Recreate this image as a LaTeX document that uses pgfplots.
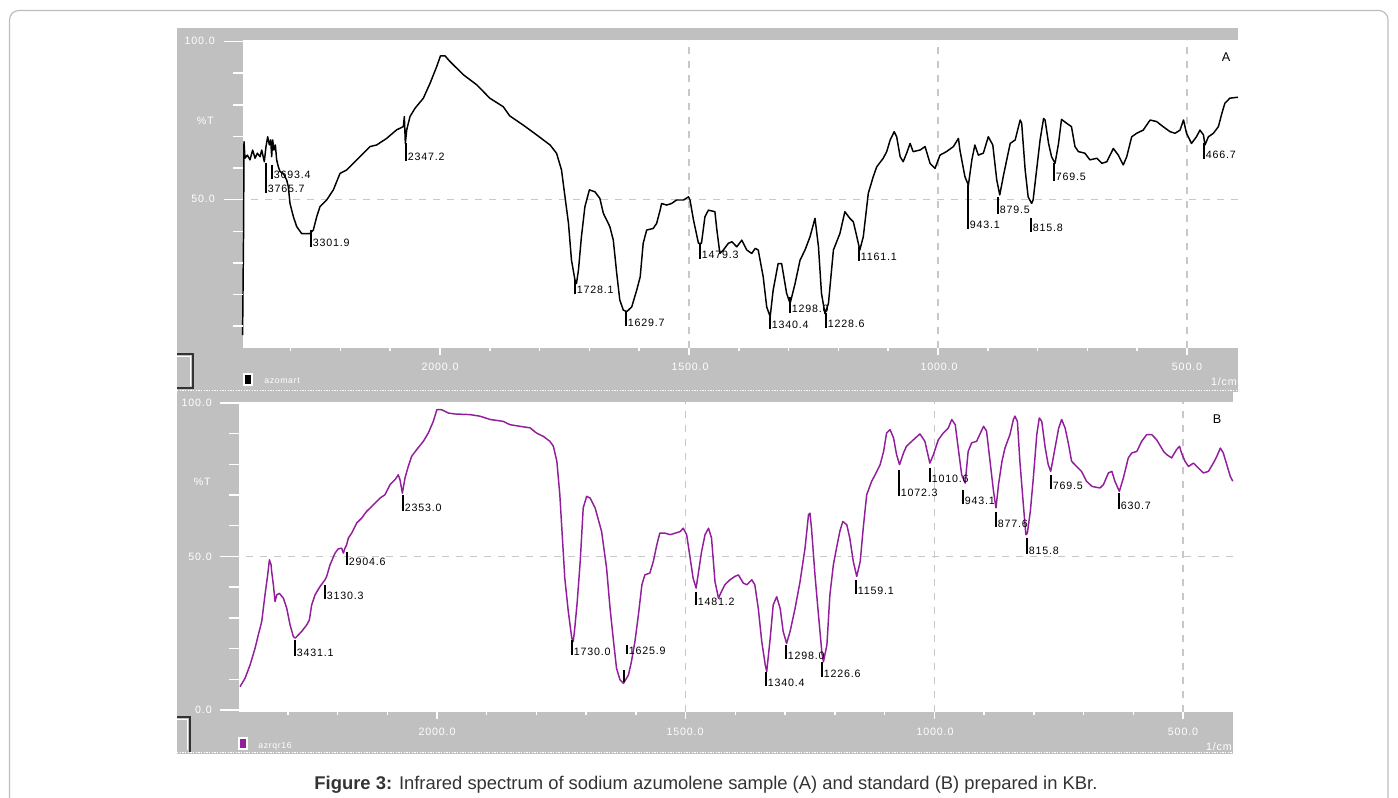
\documentclass[border=0pt]{standalone}
\usepackage{pgfplots}
\usepackage{pgfplotstable}
\pgfplotsset{compat=1.18}
\usepackage{fontspec}
\setmainfont{Liberation Sans}
\newfontfamily\pix[LetterSpace=8]{Liberation Sans}
\definecolor{panel}{HTML}{C0C0C0}
\definecolor{gridc}{HTML}{C8C8C8}
\definecolor{spB}{RGB}{145,30,155}
\definecolor{capc}{HTML}{333333}
\definecolor{framec}{HTML}{BDBDBD}

\pgfplotstableread{
nu T
3982 7.2
3972 40
3968 68.4
3958 63.1
3934 64.1
3908 62.6
3881 65.7
3857 63.1
3834 64.7
3807 63.6
3790 65.7
3764 62.0
3747 66.8
3730 69.9
3713 67.3
3700 68.9
3690 63.6
3680 68.9
3667 65.7
3653 67.3
3640 62.6
3623 60.4
3606 58.9
3573 58.3
3539 56.2
3523 54.1
3506 48.8
3472 44.6
3439 41.5
3389 39.3
3305 39.3
3272 40.4
3238 44.6
3205 47.8
3138 49.9
3071 53.1
3004 58.3
2937 59.4
2870 61.5
2803 63.6
2703 66.8
2636 67.3
2535 69.4
2435 72.1
2368 73.1
2358 76.3
2348 67.8
2334 72.1
2301 76.3
2251 78.9
2167 82.1
2100 86.8
2033 92.1
1999 95.5
1990 95.5
1980 93.7
1953 89.5
1926 86.3
1900 82.1
1873 79.4
1860 76.5
1833 73.6
1806 70.5
1779 67.3
1766 64.7
1756 59.4
1749 50.9
1742 42.5
1736 30.9
1729 24.6
1726 23.5
1722 27.7
1716 38.3
1709 47.8
1700 53.1
1689 52.5
1679 50.4
1672 45.7
1659 41.5
1652 37.2
1645 26.5
1639 18.3
1632 15.1
1625 14.6
1615 16.1
1605 21.4
1598 25.6
1592 36.2
1585 40.4
1572 40.9
1565 42.5
1558 46.7
1555 48.8
1545 48.3
1535 48.8
1525 49.9
1511 49.9
1501 50.9
1498 49.9
1491 43.6
1481 36.2
1475 36.2
1468 44.6
1461 46.7
1448 46.2
1444 40.4
1438 33.0
1431 34.1
1421 36.2
1414 36.7
1404 35.1
1394 37.2
1384 34.1
1374 33.0
1367 34.6
1361 34.1
1351 25.6
1344 16.1
1337 13.0
1331 21.4
1321 29.8
1314 29.8
1304 20.4
1297 17.2
1287 23.5
1277 30.9
1267 34.1
1257 38.3
1247 44.1
1240 35.1
1234 20.4
1227 14.0
1220 17.2
1210 34.1
1197 39.3
1187 46.2
1177 44.1
1170 43.0
1163 38.3
1157 34.1
1150 38.3
1140 52.0
1130 57.3
1123 60.4
1110 63.1
1103 65.2
1096 68.9
1088 71.5
1083 69.9
1076 63.6
1070 62.0
1063 64.7
1056 67.8
1050 65.2
1036 65.7
1026 66.8
1016 61.5
1006 59.9
996 64.1
983 65.2
969 66.8
959 69.4
956 65.7
946 57.3
939 54.6
932 62.6
926 67.3
919 64.1
909 64.7
899 69.9
890 67.3
882 56.2
876 51.5
869 57.3
862 62.6
855 67.8
845 68.9
835 75.2
832 74.2
825 59.4
819 50.9
812 48.8
809 49.9
802 59.4
795 68.9
788 75.7
785 75.2
778 67.8
772 63.6
765 61.5
758 67.8
752 75.4
742 74.2
732 73.1
725 66.8
718 65.2
705 64.7
695 62.6
681 63.1
671 61.5
661 62.0
648 66.2
638 64.1
628 61.0
621 63.6
611 69.9
601 71.0
588 72.0
574 75.2
561 74.7
548 73.1
534 71.5
524 71.0
514 72.0
507 75.2
501 71.0
491 67.8
481 69.9
474 72.0
467 70.5
464 67.3
457 69.9
447 71.0
437 73.1
430 77.3
424 80.5
414 82.1
398 82.4
}\specA

\pgfplotstableread{
nu T
3980 7.6
3930 10.3
3879 14.7
3829 20.1
3796 24.5
3762 28.8
3729 37.5
3702 44.0
3685 48.9
3668 47.3
3662 45.1
3645 40.8
3628 35.3
3611 37.5
3585 38.0
3544 36.4
3511 33.2
3477 27.7
3444 23.9
3425 23.4
3360 25.6
3310 27.7
3283 29.3
3260 34.2
3226 37.5
3176 40.2
3126 42.4
3109 43.5
3075 47.3
3025 51.1
2992 52.5
2958 52.7
2941 51.1
2925 52.7
2908 53.8
2891 56.0
2858 57.6
2807 60.9
2757 62.5
2707 64.7
2640 66.8
2573 69.0
2523 70.1
2472 73.4
2422 75.0
2389 76.6
2372 75.0
2348 70.6
2322 75.5
2288 79.4
2255 82.6
2204 84.8
2137 87.5
2087 90.2
2037 94.0
2001 97.8
1991 97.8
1977 96.7
1964 96.4
1934 96.2
1914 95.7
1893 94.6
1867 94.0
1853 92.9
1826 92.2
1813 91.9
1800 90.2
1786 89.1
1773 87.5
1766 85.9
1759 81.0
1753 70.1
1749 59.2
1743 42.9
1736 32.1
1729 23.4
1726 22.3
1723 26.6
1718 35.3
1712 48.4
1706 65.8
1699 69.6
1692 69.0
1682 65.8
1669 58.1
1659 46.2
1652 33.1
1645 22.3
1639 13.6
1632 9.8
1625 8.7
1615 11.4
1609 15.8
1602 22.3
1595 31.0
1588 40.8
1582 44.0
1572 44.6
1565 48.4
1558 53.8
1552 57.6
1542 57.6
1531 57.1
1521 57.6
1511 58.1
1505 59.2
1498 57.1
1491 49.5
1485 42.9
1479 39.7
1475 44.0
1468 51.6
1461 57.1
1454 59.2
1448 56.0
1441 41.8
1434 36.4
1428 38.6
1421 40.8
1411 42.4
1401 43.5
1394 44.0
1384 41.3
1377 40.8
1367 42.4
1361 40.8
1354 33.1
1347 22.3
1340 14.7
1337 12.5
1330 23.4
1324 34.2
1317 36.9
1310 33.1
1304 25.6
1297 21.7
1290 25.6
1280 33.1
1270 41.8
1260 52.7
1253 63.6
1250 64.1
1247 59.2
1240 44.0
1233 31.0
1226 18.5
1223 15.7
1216 21.2
1210 37.5
1203 47.3
1196 53.3
1190 58.2
1184 61.4
1176 60.3
1170 56.0
1163 48.4
1156 43.5
1149 48.4
1143 59.2
1136 70.1
1126 74.5
1119 76.6
1109 79.9
1102 84.2
1096 90.2
1089 91.3
1082 88.6
1076 83.2
1070 79.9
1062 83.7
1056 85.9
1042 88.0
1029 89.9
1019 87.5
1009 80.4
1002 83.1
992 88.0
982 90.2
972 91.8
965 94.6
958 92.9
952 85.3
945 76.6
938 73.9
932 84.2
925 87.0
915 87.5
901 92.4
895 90.8
888 81.0
881 71.2
876 65.8
871 73.4
864 81.0
858 85.3
848 89.7
841 94.6
838 95.7
833 94.0
828 81.0
821 66.8
816 57.1
813 57.6
807 64.7
801 75.5
794 89.7
789 95.1
784 94.0
777 85.3
771 79.9
766 77.7
761 82.1
750 91.8
744 94.6
737 91.8
730 86.4
724 81.0
714 79.3
704 77.7
694 74.5
683 72.8
667 72.3
660 73.4
650 77.2
643 77.7
637 74.5
628 71.2
620 75.5
610 82.1
603 83.7
593 84.2
583 87.5
573 89.7
563 89.7
553 88.0
539 84.2
533 83.2
523 82.1
513 84.8
507 85.9
503 83.7
496 81.0
489 79.3
479 80.4
469 78.8
459 77.2
449 77.7
439 80.4
432 82.6
425 85.3
419 83.7
412 79.9
405 76.1
400 74.5
}\specB

\pgfplotsset{
  irspec/.style={
    scale only axis, x dir=reverse, clip=false,
    axis line style={draw=none},
    xtick={500,1000,1500}, ytick={50},
    xticklabels={}, yticklabels={},
    major tick length=0pt, tick style={draw=none},
    grid=major,
    major grid style={gridc, line width=1.1pt, dash pattern=on 5.5pt off 5pt},
    axis background/.style={fill=white},
  },
}
\tikzset{tk/.style={white, line width=1.1pt}}
\newcommand{\nuexpr}{\thisrow{nu}>2000 ? 2000+(\thisrow{nu}-2000)/5 : \thisrow{nu}}
\newcommand{\pk}[4]{%
  \draw[black, line width=1.1pt] (#1,#2) -- (#1,#3);
  \node[anchor=base west, inner sep=0pt, font=\pix\fontsize{8}{9}\selectfont] at (#1+1.5,#3) {#4};}
\newcommand{\wl}[4]{\node[anchor=#3, inner sep=0pt, text=white, font=\pix\fontsize{8}{9}\selectfont] at (#1,#2) {#4};}

\begin{document}
\begin{tikzpicture}
\path[use as bounding box] (0pt,0pt) rectangle (1048.5pt,-598.5pt);
\begin{scope}[x=0.75pt,y=-0.75pt]
  \draw[framec, line width=0.9pt, rounded corners=7pt] (9.5,10.5) rectangle (1388,900);
  \fill[panel] (177,28) rectangle (1238,392);
  \fill[panel] (177,392) rectangle (1233,754);
\end{scope}

% ---------- Panel A ----------
\begin{axis}[irspec,
  at={(182.25pt,-261pt)}, anchor=south west,
  width=746.25pt, height=231pt,
  xmin=397.6, xmax=2395.6, ymin=3.1, ymax=100.5]
  \addplot[black, line width=1.1pt, line join=round] table[x expr={\nuexpr}, y=T] {\specA};
  \pgfplotsinvokeforeach{600,700,800,900,1100,1200,1300,1400,1600,1700,1800,1900,2100,2200,2300}{
    \draw[tk] (axis cs:#1,3.1) -- ++(0pt,-2.5pt);}
  \pgfplotsinvokeforeach{500,1000,1500,2000}{
    \draw[tk] (axis cs:#1,3.1) -- ++(0pt,-5.25pt);}
  \pgfplotsinvokeforeach{10,20,30,40,60,70,80,90}{
    \draw[tk] (axis cs:2395.6,#1) -- ++(-7.5pt,0pt);}
  \pgfplotsinvokeforeach{50,100}{
    \draw[tk] (axis cs:2395.6,#1) -- ++(-14.25pt,0pt);}
\end{axis}

% ---------- Panel B ----------
\begin{axis}[irspec,
  at={(179.25pt,-534pt)}, anchor=south west,
  width=745.5pt, height=232.5pt,
  xmin=399.5, xmax=2398.1, ymin=-0.65, ymax=100.3]
  \addplot[spB, line width=1.1pt, line join=round] table[x expr={\nuexpr}, y=T] {\specB};
  \pgfplotsinvokeforeach{600,700,800,900,1100,1200,1300,1400,1600,1700,1800,1900,2100,2200,2300}{
    \draw[tk] (axis cs:#1,-0.65) -- ++(0pt,-2.5pt);}
  \pgfplotsinvokeforeach{500,1000,1500,2000}{
    \draw[tk] (axis cs:#1,-0.65) -- ++(0pt,-5.25pt);}
  \pgfplotsinvokeforeach{10,20,30,40,60,70,80,90}{
    \draw[tk] (axis cs:2398.1,#1) -- ++(-7.5pt,0pt);}
  \pgfplotsinvokeforeach{0,50,100}{
    \draw[tk] (axis cs:2398.1,#1) -- ++(-14.25pt,0pt);}
\end{axis}

\begin{scope}[x=0.75pt,y=-0.75pt]
  % separators
  \draw[white, line width=0.8pt, dash pattern=on 1pt off 1pt] (177,390.5) -- (1238,390.5);
  \draw[white, line width=0.8pt, dash pattern=on 1pt off 1pt] (177,752.5) -- (1233,752.5);
  % buttons
  \draw[black!80, line width=1.3pt] (177,354) -- (193,354) -- (193,388) -- (177,388);
  \draw[white, line width=0.8pt] (177,356.5) -- (190.5,356.5) -- (190.5,385.5);
  \draw[black!80, line width=1.3pt] (177,717) -- (190,717) -- (190,752);
  \draw[white, line width=0.8pt] (177,719.5) -- (187.5,719.5) -- (187.5,750);
  % y labels panel A
  \wl{215}{41}{east}{100.0}
  \wl{215}{199}{east}{50.0}
  \wl{214}{121}{east}{\%T}
  % y labels panel B
  \wl{212}{403}{east}{100.0}
  \wl{212}{557}{east}{50.0}
  \wl{212}{710}{east}{0.0}
  \wl{211}{482}{east}{\%T}
  % x labels
  \wl{440}{367}{center}{2000.0}
  \wl{690}{367}{center}{1500.0}
  \wl{939}{367}{center}{1000.0}
  \wl{1187}{367}{center}{500.0}
  \wl{437}{732}{center}{2000.0}
  \wl{685}{732}{center}{1500.0}
  \wl{935}{732}{center}{1000.0}
  \wl{1183}{732}{center}{500.0}
  \wl{1237}{382}{east}{1/cm}
  \wl{1232}{747}{east}{1/cm}
  % legends
  \filldraw[fill=black, draw=white, line width=0.8pt] (244,374) rectangle (252,385);
  \wl{264}{381}{west}{\fontsize{6.5}{7}\selectfont azomart}
  \filldraw[fill=spB, draw=white, line width=0.8pt] (239,738) rectangle (247,749);
  \wl{258}{746}{west}{\fontsize{6.5}{7}\selectfont azrqr16}
  % panel letters
  \node[font=\fontsize{9.5}{10}\selectfont] at (1226,57) {A};
  \node[font=\fontsize{9.5}{10}\selectfont] at (1217,419) {B};
  % peak labels panel A
  \pk{266}{163}{193}{3765.7}
  \pk{272}{165}{179}{3693.4}
  \pk{311}{230}{247}{3301.9}
  \pk{406}{143}{161}{2347.2}
  \pk{575}{280}{294}{1728.1}
  \pk{626}{312}{326}{1629.7}
  \pk{700}{243}{259}{1479.3}
  \pk{770}{317}{329}{1340.4}
  \pk{790}{297}{313}{1298.0}
  \pk{826}{313}{328}{1228.6}
  \pk{859}{247}{261}{1161.1}
  \pk{968}{185}{229}{943.1}
  \pk{998}{197}{214}{879.5}
  \pk{1031}{218}{232}{815.8}
  \pk{1054}{163}{181}{769.5}
  \pk{1204}{143}{159}{466.7}
  % peak labels panel B
  \pk{295}{640}{656}{3431.1}
  \pk{325}{585}{599}{3130.3}
  \pk{347}{552}{565}{2904.6}
  \pk{403}{495}{511}{2353.0}
  \pk{572}{640}{655}{1730.0}
  \pk{627}{645}{654}{1625.9}
  \draw[black, line width=1.1pt] (624,670) -- (624,682);
  \pk{696}{592}{605}{1481.2}
  \pk{766}{672}{686}{1340.4}
  \pk{786}{645}{659}{1298.0}
  \pk{822}{662}{677}{1226.6}
  \pk{856}{580}{594}{1159.1}
  \pk{899}{470}{496}{1072.3}
  \pk{930}{468}{482}{1010.6}
  \pk{963}{490}{504}{943.1}
  \pk{996}{512}{527}{877.6}
  \pk{1027}{538}{554}{815.8}
  \pk{1051}{475}{489}{769.5}
  \pk{1119}{493}{509}{630.7}
  % caption
  \node[text=capc, font=\fontsize{13.8}{15}\selectfont] at (706,785)
    {\textbf{Figure 3:} Infrared spectrum of sodium azumolene sample (A) and standard (B) prepared in KBr.};
\end{scope}
\end{tikzpicture}
\end{document}
